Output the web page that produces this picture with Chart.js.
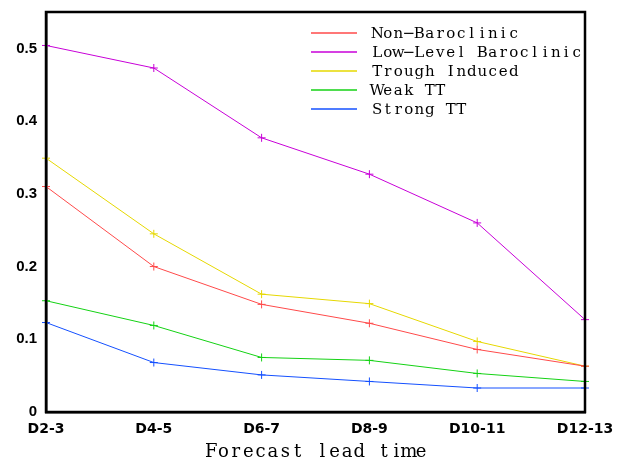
<!DOCTYPE html>
<html>
<head>
<meta charset="utf-8">
<script src="https://cdn.jsdelivr.net/npm/chart.js@4"></script>
<style>
  body { margin: 0; background: #fff; }
  #wrap { width: 621px; height: 461px; }
</style>
</head>
<body>
<div id="wrap"><canvas id="myChart" width="621" height="461"></canvas></div>
<script>
var categories = ['D2-3', 'D4-5', 'D6-7', 'D8-9', 'D10-11', 'D12-13'];
var nonBaroclinic = [0.310, 0.200, 0.148, 0.122, 0.086, 0.063];
var lowLevelBaroclinic = [0.504, 0.473, 0.377, 0.327, 0.260, 0.127];
var troughInduced = [0.349, 0.245, 0.162, 0.149, 0.097, 0.063];
var weakTT = [0.153, 0.119, 0.075, 0.071, 0.053, 0.042];
var strongTT = [0.123, 0.068, 0.051, 0.042, 0.033, 0.033];
var yTicks = [0, 0.1, 0.2, 0.3, 0.4, 0.5];

var seriesNames = ['Non\u2212Baroclinic', 'Low\u2212Level Baroclinic', 'Trough Induced', 'Weak TT', 'Strong TT'];
var seriesData = [nonBaroclinic, lowLevelBaroclinic, troughInduced, weakTT, strongTT];
var colors = ['#ff4a4a', '#c800d8', '#e6d800', '#14d214', '#1450ff'];

// draws text with every character on a fixed pitch (the original uses a fixed-width serif font)
function pitchText(c, str, x, y, pitch) {
  for (var k = 0; k < str.length; k++) {
    var ch = str[k];
    var w = c.measureText(ch).width;
    c.fillText(ch, x + k * pitch + (pitch - w) / 2, y);
  }
}

// box around the plot + legend inside top right + x title
var extras = {
  id: 'extras',
  afterDraw: function(chart) {
    var c = chart.ctx, a = chart.chartArea;
    c.save();
    c.strokeStyle = '#000';
    c.lineWidth = 2.5;
    c.strokeRect(a.left, a.top, a.right - a.left, a.bottom - a.top);

    c.font = '15px "DejaVu Serif"';
    c.textBaseline = 'middle';
    c.textAlign = 'left';
    for (var i = 0; i < seriesNames.length; i++) {
      var y = 33 + i * 19;
      c.strokeStyle = colors[i];
      c.lineWidth = 1.5;
      c.beginPath();
      c.moveTo(311, y);
      c.lineTo(357, y);
      c.stroke();
      c.fillStyle = '#000';
      pitchText(c, seriesNames[i], 372, y + 1, 10.5);
    }

    c.font = '18px "DejaVu Serif"';
    c.textBaseline = 'alphabetic';
    pitchText(c, 'Forecast lead time', 205, 457, 12.35);
    c.restore();
  }
};

var ctx = document.getElementById('myChart').getContext('2d');
var chart = new Chart(ctx, {
  type: 'line',
  data: {
    labels: categories,
    datasets: seriesData.map(function(d, i) {
      return {
        label: seriesNames[i],
        data: d,
        borderColor: colors[i],
        backgroundColor: colors[i],
        borderWidth: 1,
        pointStyle: 'cross',
        pointRadius: 4,
        pointBorderWidth: 1,
        tension: 0
      };
    })
  },
  options: {
    responsive: false,
    animation: false,
    layout: { padding: { top: 10, right: 36, left: 0, bottom: 0 } },
    plugins: {
      legend: { display: false },
      tooltip: { enabled: false }
    },
    scales: {
      x: {
        offset: false,
        grid: { display: false, drawTicks: true, tickLength: 6, tickColor: '#000', tickWidth: 2 },
        border: { display: true, color: '#000', width: 2.5 },
        ticks: {
          color: '#000',
          padding: 3,
          maxRotation: 0,
          autoSkip: false,
          font: { family: 'DejaVu Sans', weight: 'bold', size: 14 }
        },
        afterFit: function(scale) { scale.height = 49; }
      },
      y: {
        min: 0,
        max: 0.55,
        grid: { display: false, drawTicks: true, tickLength: 6, tickColor: '#000', tickWidth: 2 },
        border: { display: true, color: '#000', width: 2.5 },
        afterBuildTicks: function(axis) {
          axis.ticks = yTicks.map(function(v) { return { value: v }; });
        },
        ticks: {
          color: '#000',
          padding: 3,
          font: { family: 'Liberation Sans', weight: 'bold', size: 15 },
          callback: function(v) { return String(Math.round(v * 10) / 10); }
        },
        afterFit: function(scale) { scale.width = 46; }
      }
    }
  },
  plugins: [extras]
});
</script>
</body>
</html>
